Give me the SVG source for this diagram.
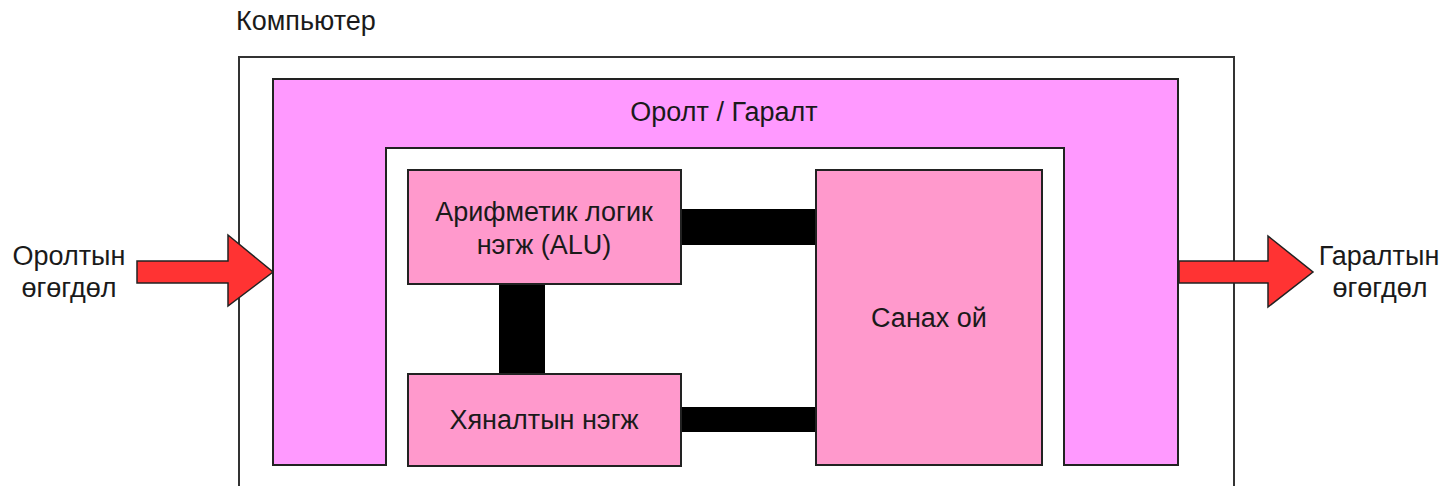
<svg xmlns="http://www.w3.org/2000/svg" width="1450" height="486" viewBox="0 0 1450 486">
<style>
text{font-family:"Liberation Sans",Arial,sans-serif;font-size:27px;fill:#1a1a1a}
.c{text-anchor:middle}
.box{fill:#ff99cc;stroke:#222;stroke-width:2}
.arrow{fill:#ff3333;stroke:#222;stroke-width:1.5}
.bus{fill:#000}
</style>
<rect width="1450" height="486" fill="#fff"/>
<g id="computer">
<rect x="239" y="57" width="995" height="440" fill="#fff" stroke="#333" stroke-width="2"/>
<text x="236" y="30">Компьютер</text>
</g>
<g id="io">
<path d="M273,79 H1178 V465 H1064 V148 H386 V465 H273 Z" fill="#ff99ff" stroke="#222" stroke-width="2"/>
<text class="c" x="724" y="121">Оролт / Гаралт</text>
</g>
<g id="connectors">
<rect class="bus" x="681" y="209" width="135" height="36"/>
<rect class="bus" x="681" y="407" width="135" height="25"/>
<rect class="bus" x="499" y="284" width="46" height="90"/>
</g>
<g id="alu">
<rect class="box" x="408" y="170" width="273" height="114"/>
<text class="c" x="544" y="221">Арифметик логик</text>
<text class="c" x="544" y="254">нэгж (ALU)</text>
</g>
<g id="control">
<rect class="box" x="408" y="374" width="273" height="92"/>
<text class="c" x="544" y="429">Хяналтын нэгж</text>
</g>
<g id="memory">
<rect class="box" x="816" y="170" width="226" height="295"/>
<text class="c" x="929" y="327">Санах ой</text>
</g>
<g id="input">
<path class="arrow" d="M137,261 H228 V235 L273,272 L228,306 V283 H137 Z"/>
<text class="c" x="69" y="265">Оролтын</text>
<text class="c" x="69" y="297">өгөгдөл</text>
</g>
<g id="output">
<path class="arrow" d="M1179,261 H1268 V236 L1313,272 L1268,307 V283 H1179 Z"/>
<text class="c" x="1379" y="265">Гаралтын</text>
<text class="c" x="1380" y="297">өгөгдөл</text>
</g>
</svg>
